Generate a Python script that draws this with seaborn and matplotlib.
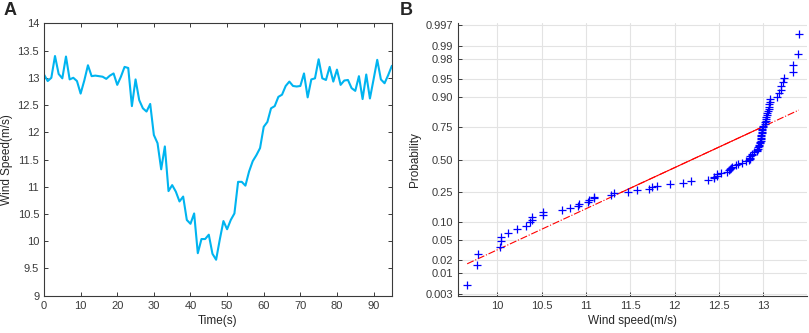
import matplotlib
matplotlib.use('Agg')
import matplotlib.pyplot as plt
import numpy as np
import pandas as pd
import seaborn as sns
from statistics import NormalDist

# wind speed record, one sample per second
time_s = list(range(96))
wind_speed = [13.06, 12.94, 13.00, 13.40, 13.07, 12.99, 13.39, 12.97, 13.00, 12.94,
              12.71, 12.95, 13.23, 13.03, 13.04, 13.03, 13.02, 12.98, 13.04, 13.08,
              12.87, 13.02, 13.20, 13.18, 12.48, 12.97, 12.59, 12.44, 12.38, 12.52,
              11.95, 11.80, 11.32, 11.74, 10.92, 11.03, 10.91, 10.73, 10.82, 10.39,
              10.32, 10.51, 9.78, 10.04, 10.04, 10.12, 9.77, 9.66, 10.03, 10.37,
              10.22, 10.39, 10.51, 11.09, 11.09, 11.02, 11.28, 11.47, 11.58, 11.71,
              12.10, 12.19, 12.44, 12.48, 12.65, 12.69, 12.85, 12.93, 12.85, 12.84,
              12.85, 13.08, 12.64, 12.97, 12.99, 13.34, 12.99, 12.96, 13.20, 12.93,
              13.15, 12.87, 12.95, 12.96, 12.81, 12.76, 13.03, 12.61, 13.06, 12.62,
              12.97, 13.33, 12.97, 12.90, 13.05, 13.22]

time_ticks = [0, 10, 20, 30, 40, 50, 60, 70, 80, 90]
speed_ticks = [9, 9.5, 10, 10.5, 11, 11.5, 12, 12.5, 13, 13.5, 14]
speed_labels = ['9', '9.5', '10', '10.5', '11', '11.5', '12', '12.5', '13', '13.5', '14']
wind_ticks = [10, 10.5, 11, 11.5, 12, 12.5, 13]
wind_labels = ['10', '10.5', '11', '11.5', '12', '12.5', '13']
prob_ticks = [0.003, 0.01, 0.02, 0.05, 0.10, 0.25, 0.50, 0.75, 0.90, 0.95, 0.98, 0.99, 0.997]
prob_labels = ['0.003', '0.01', '0.02', '0.05', '0.10', '0.25', '0.50',
               '0.75', '0.90', '0.95', '0.98', '0.99', '0.997']

sns.set_style('ticks')
plt.rcParams['font.family'] = ['Liberation Sans', 'DejaVu Sans']

dark = '#3a3a3a'
nd = NormalDist()

fig = plt.figure(figsize=(8.09, 3.33), dpi=100)
ax1 = fig.add_axes([0.0544, 0.112, 0.430, 0.818])
ax2 = fig.add_axes([0.5665, 0.112, 0.4307, 0.818])

# --- A: time series
df = pd.DataFrame({'Time(s)': time_s, 'Wind Speed(m/s)': wind_speed})
sns.lineplot(data=df, x='Time(s)', y='Wind Speed(m/s)', ax=ax1, color='#00b4f0', linewidth=1.5)
ax1.set_xlim(0, 95)
ax1.set_ylim(9, 14)
ax1.set_xticks(time_ticks)
ax1.set_yticks(speed_ticks)
ax1.set_yticklabels(speed_labels)
ax1.tick_params(direction='in', length=3, width=0.7, colors=dark, labelsize=8,
                top=True, right=True, labeltop=False, labelright=False)
for sp in ax1.spines.values():
    sp.set_color(dark)
    sp.set_linewidth(0.8)
ax1.set_xlabel('Time(s)', fontsize=8.5, color='#262626', labelpad=3)
ax1.set_ylabel('Wind Speed(m/s)', fontsize=8.5, color='#262626')
ax1.yaxis.set_label_coords(-0.088, 0.5)

# --- B: normal probability plot
v_sorted = np.sort(wind_speed)
n = len(v_sorted)
z_pos = [nd.inv_cdf((i + 0.5) / n) for i in range(n)]
sns.scatterplot(x=v_sorted, y=z_pos, ax=ax2, marker='+', color='#0000ff', s=36, linewidth=0.9,
                zorder=3)

# reference line through the first and third quartiles
q1, q3 = np.percentile(wind_speed, [25, 75], method='hazen')
z1, z3 = nd.inv_cdf(0.25), nd.inv_cdf(0.75)
slope = (z3 - z1) / (q3 - q1)
xs = np.array([v_sorted[0], v_sorted[-1]])
ax2.plot(xs, z1 + slope * (xs - q1), color='#ff0000', ls='-.', lw=0.8, zorder=2)
ax2.plot([q1, q3], [z1, z3], color='#ff0000', lw=0.8, zorder=2)

ax2.set_xlim(9.56, 13.49)
ax2.set_ylim(-2.785, 2.785)
ax2.set_xticks(wind_ticks)
ax2.set_xticklabels(wind_labels)
ax2.set_yticks([nd.inv_cdf(p) for p in prob_ticks])
ax2.set_yticklabels(prob_labels)
ax2.grid(True, color='#e3e3e3', linewidth=0.8)
ax2.set_axisbelow(True)
ax2.tick_params(direction='in', length=3, width=0.7, colors=dark, labelsize=8)
for side in ['top', 'right']:
    ax2.spines[side].set_visible(False)
for side in ['left', 'bottom']:
    ax2.spines[side].set_color(dark)
    ax2.spines[side].set_linewidth(0.8)
ax2.set_xlabel('Wind speed(m/s)', fontsize=8.5, color='#262626', labelpad=3)
ax2.set_ylabel('Probability', fontsize=8.5, color='#262626')
ax2.yaxis.set_label_coords(-0.107, 0.5)

fig.text(0.004, 0.995, 'A', fontsize=13, fontweight='bold', va='top', ha='left')
fig.text(0.494, 0.995, 'B', fontsize=13, fontweight='bold', va='top', ha='left')

fig.savefig('out.png', dpi=100)
